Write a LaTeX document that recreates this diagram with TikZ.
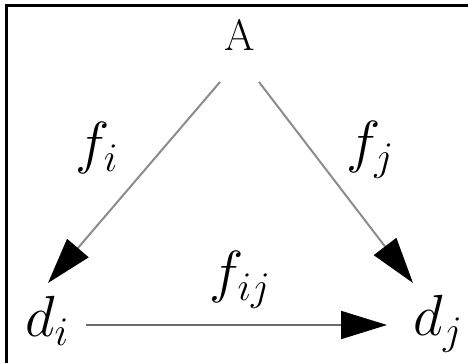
\RequirePackage{fix-cm}
\documentclass[tikz,border=0pt]{standalone}
\usetikzlibrary{arrows.meta}

\begin{document}
\begin{tikzpicture}[
    x=1pt, y=1pt,
    vertex/.style={inner sep=0pt, font=\fontsize{58}{64}\selectfont},
    maplabel/.style={inner sep=0pt, font=\fontsize{58}{64}\selectfont},
    maparrow/.style={line width=2pt, draw=black!45,
        -{Triangle[length=46pt, width=28pt, color=black]}},
    baseline arrow/.style={maparrow, draw=black!58}
]
\useasboundingbox (0,0) rectangle (468,362);
% frame, cut off on the right and at the bottom
\draw[line width=3pt] (6,-5) -- (6,356.5) -- (475,356.5);

\node[inner sep=0pt, font=\fontsize{44}{50}\selectfont] (A) at (240,327) {A};
\node[vertex] (di) at (47,41) {$d_i$};
\node[vertex] (dj) at (438,38) {$d_j$};

\node[maplabel] (fi) at (97,214) {$f_i$};
\node[maplabel] (fj) at (370,212) {$f_j$};
\node[maplabel] (fij) at (240,82) {$f_{ij}$};

\draw[maparrow] ([shift={(-20,-47)}]A.center) -- ([shift={(1,38)}]di.center);
\draw[maparrow] ([shift={(19,-47)}]A.center) -- ([shift={(-25,41)}]dj.center);
\draw[baseline arrow] ([shift={(39,-4)}]di.center) -- ([shift={(-51,-1)}]dj.center);
\end{tikzpicture}
\end{document}
